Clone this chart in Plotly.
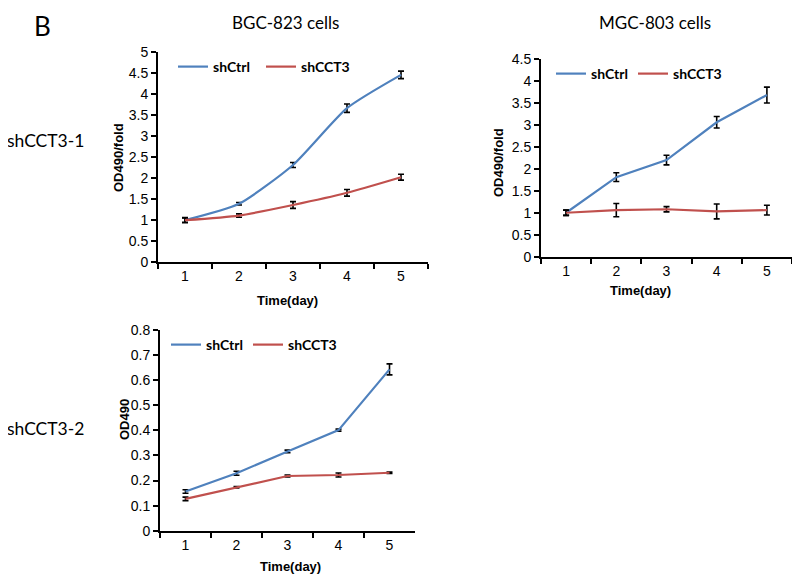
import plotly.graph_objects as go

days = ["1", "2", "3", "4", "5"]
series_names = ["shCtrl", "shCCT3"]

# BGC-823, shCCT3-1 (OD490/fold)
bgc_ctrl = [1.00, 1.39, 2.31, 3.66, 4.45]
bgc_ctrl_err = [0.06, 0.03, 0.06, 0.10, 0.09]
bgc_cct3 = [1.00, 1.11, 1.36, 1.65, 2.02]
bgc_cct3_err = [0.05, 0.04, 0.08, 0.08, 0.07]

# MGC-803, shCCT3-1 (OD490/fold)
mgc_ctrl = [1.00, 1.81, 2.20, 3.06, 3.68]
mgc_ctrl_err = [0.06, 0.10, 0.11, 0.13, 0.18]
mgc_cct3 = [1.00, 1.06, 1.08, 1.03, 1.06]
mgc_cct3_err = [0.06, 0.15, 0.06, 0.17, 0.11]

# BGC-823, shCCT3-2 (OD490)
bgc2_ctrl = [0.156, 0.229, 0.316, 0.401, 0.643]
bgc2_ctrl_err = [0.007, 0.008, 0.005, 0.004, 0.022]
bgc2_cct3 = [0.127, 0.173, 0.218, 0.222, 0.231]
bgc2_cct3_err = [0.007, 0.003, 0.004, 0.008, 0.003]

BLUE = "#4F81BD"
RED = "#C0504D"
TICKFONT = dict(family="Liberation Sans, Arial", size=14, color="black")
LABFONT = "Lato, Liberation Sans"

# The page body has an 8px margin, so the figure is 792x572 and positions
# measured on the 800x580 reference are shifted by 8px.
OFF = 8
W, H = 800 - OFF, 580 - OFF
def fx(px):
    return (px - OFF) / W
def fy(py):
    return 1 - (py - OFF) / H

fig = go.Figure()

panels = [
    ("x", "y", ("legend", "legend2"), bgc_ctrl, bgc_ctrl_err, bgc_cct3, bgc_cct3_err, "spline"),
    ("x2", "y2", ("legend3", "legend4"), mgc_ctrl, mgc_ctrl_err, mgc_cct3, mgc_cct3_err, "linear"),
    ("x3", "y3", ("legend5", "legend6"), bgc2_ctrl, bgc2_ctrl_err, bgc2_cct3, bgc2_cct3_err, "linear"),
]

for xa, ya, lgs, c, ce, s, se, shape in panels:
    for name, vals, errs, col, lg in [(series_names[0], c, ce, BLUE, lgs[0]),
                                      (series_names[1], s, se, RED, lgs[1])]:
        fig.add_trace(go.Scatter(
            x=days, y=vals, name=name, mode="lines",
            line=dict(color=col, width=2.2, shape=shape, smoothing=0.6),
            error_y=dict(type="data", array=errs, visible=True, color="black",
                         thickness=1.6, width=3),
            xaxis=xa, yaxis=ya, legend=lg, showlegend=True,
        ))

def xaxis(domain, anchor):
    return dict(domain=domain, anchor=anchor, type="category", range=[-0.5, 4.5],
                tickson="boundaries", ticks="outside", ticklen=5, tickwidth=1.5,
                tickcolor="black", showline=True, linecolor="black", linewidth=2,
                showgrid=False, zeroline=False, tickfont=TICKFONT, fixedrange=True,
                automargin=False)

def yaxis(domain, anchor, rng, dtick):
    return dict(domain=domain, anchor=anchor, range=rng, dtick=dtick,
                ticks="outside", ticklen=5, tickwidth=1.5, tickcolor="black",
                showline=True, linecolor="black", linewidth=2, showgrid=False,
                zeroline=False, tickfont=TICKFONT, fixedrange=True, automargin=False)

legfont = dict(family=LABFONT, size=14, color="black", weight="bold")
def legend(text_x, ypx):
    return dict(orientation="h", x=fx(text_x - 39), y=fy(ypx), xanchor="left",
                yanchor="middle", font=dict(legfont), bgcolor="rgba(0,0,0,0)",
                itemwidth=30)

fig.update_layout(
    width=W, height=H, margin=dict(l=0, r=0, t=0, b=0, autoexpand=False),
    paper_bgcolor="white", plot_bgcolor="white",
    xaxis=xaxis([fx(158), fx(428)], "y"),
    yaxis=yaxis([fy(262.3), fy(51.7)], "x", [0, 5], 0.5),
    xaxis2=xaxis([fx(541), fx(792)], "y2"),
    yaxis2=yaxis([fy(256.7), fy(59)], "x2", [0, 4.5], 0.5),
    xaxis3=xaxis([fx(160), fx(415)], "y3"),
    yaxis3=yaxis([fy(530.7), fy(330)], "x3", [0, 0.8], 0.1),
    legend=legend(212, 67),
    legend2=legend(300, 67),
    legend3=legend(590, 74),
    legend4=legend(672, 74),
    legend5=legend(205, 345),
    legend6=legend(287, 345),
    showlegend=True,
)

ann = []
def text(t, xpx, ypx, size, bold=False, angle=0, family=LABFONT, yanchor="middle"):
    ann.append(dict(text=t, x=fx(xpx), y=fy(ypx), xref="paper", yref="paper",
                    showarrow=False, textangle=angle, xanchor="center", yanchor=yanchor,
                    font=dict(family=family, size=size, color="black",
                              weight="bold" if bold else "normal")))

text("B", 42, 8.5, 26, yanchor="top")
text("BGC-823 cells", 285, 22, 17)
text("MGC-803 cells", 655, 22, 17)
text("shCCT3-1", 45, 140, 17.5)
text("shCCT3-2", 45, 428, 17.5)
text("OD490/fold", 118, 158, 13, True, -90, "Liberation Sans, Arial")
text("OD490/fold", 498, 163, 13, True, -90, "Liberation Sans, Arial")
text("OD490", 124, 420, 13, True, -90, "Liberation Sans, Arial")
text("Time(day)", 287, 300, 13, True, 0, "Liberation Sans, Arial")
text("Time(day)", 640, 290, 13, True, 0, "Liberation Sans, Arial")
text("Time(day)", 290, 566, 13, True, 0, "Liberation Sans, Arial")
fig.update_layout(annotations=ann)

fig.write_html("out.html")
